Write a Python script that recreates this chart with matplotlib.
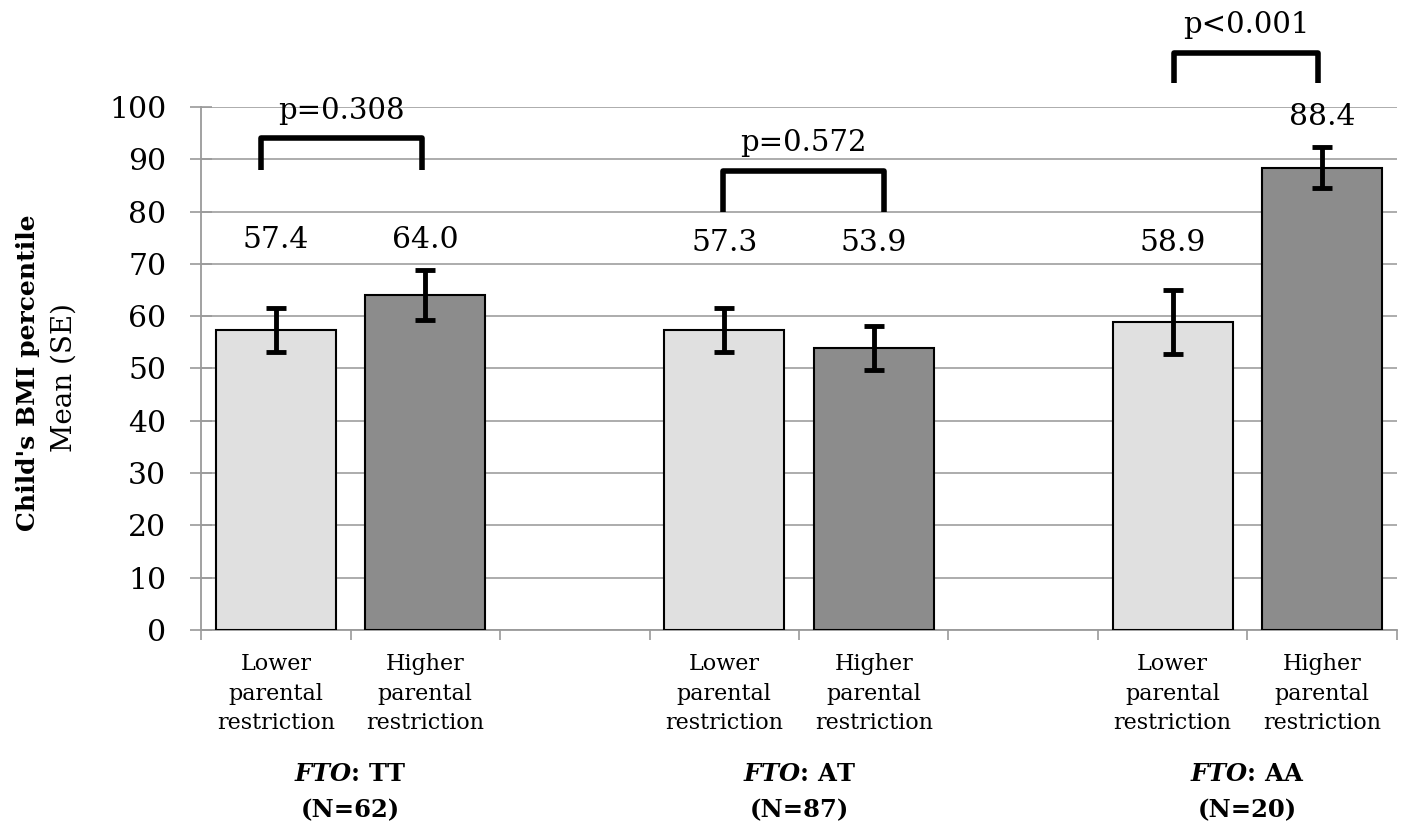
import numpy as np
import matplotlib.pyplot as plt
import matplotlib.transforms as mtransforms

plt.rcParams['font.family'] = ['DejaVu Serif']
plt.rcParams['mathtext.fontset'] = 'dejavuserif'

# data
groups = ["TT", "AT", "AA"]
group_n = [62, 87, 20]
bar_labels = ["Lower\nparental\nrestriction", "Higher\nparental\nrestriction"]
means = [[57.4, 64.0], [57.3, 53.9], [58.9, 88.4]]
se = [[4.2, 4.8], [4.2, 4.2], [6.2, 3.9]]
p_values = ["p=0.308", "p=0.572", "p<0.001"]
value_label_y = [[74.5, 74.5], [74.0, 74.0], [74.0, 98.0]]
bracket_y = [(88.0, 94.0), (80.0, 87.8), (104.6, 110.3)]
bracket_x = [(0.40, 1.48), (3.49, 4.57), (6.51, 7.47)]

bar_colors = ["#e0e0e0", "#8c8c8c"]

fig = plt.figure(figsize=(14.03, 8.26), dpi=100)
ax = fig.add_axes([0.1433, 0.2373, 0.8524, 0.6332])

for g in range(len(groups)):
    for j in range(2):
        x = 3 * g + j + 0.5
        ax.bar(x, means[g][j], width=0.8, color=bar_colors[j], edgecolor="black",
               linewidth=1.5, zorder=3)
        ax.errorbar(x, means[g][j], yerr=se[g][j], fmt="none", ecolor="black",
                    elinewidth=3.5, capsize=7, capthick=3.5, zorder=4)
        ax.text(x, value_label_y[g][j], f"{means[g][j]:.1f}", ha="center", va="center",
                fontsize=21.5, clip_on=False)
    # significance bracket
    x0, x1 = bracket_x[g]
    y0, y1 = bracket_y[g]
    ax.plot([x0, x0, x1, x1], [y0, y1, y1, y0], color="black", lw=4,
            solid_joinstyle="round", solid_capstyle="butt", clip_on=False, zorder=5)
    ax.text((x0 + x1) / 2, y1 + 5.3, p_values[g], ha="center", va="center",
            fontsize=21, clip_on=False)

ax.set_xlim(0, 8)
ax.set_ylim(0, 100)
ax.set_yticks(np.arange(0, 101, 10))
ax.tick_params(axis="y", labelsize=21.5, direction="inout", length=16, width=1.2,
               color="#9a9a9a", pad=17)
ax.set_xticks(np.arange(0, 9, 1))
ax.set_xticklabels([])
ax.tick_params(axis="x", direction="out", length=7, width=1.2, color="#9a9a9a")
ax.grid(axis="y", color="#a6a6a6", lw=1.3, zorder=0)
for s in ["top", "right"]:
    ax.spines[s].set_visible(False)
for s in ["left", "bottom"]:
    ax.spines[s].set_color("#9a9a9a")
    ax.spines[s].set_linewidth(1.3)

trans = mtransforms.blended_transform_factory(ax.transData, fig.transFigure)
for g in range(len(groups)):
    for j in range(2):
        x = 3 * g + j + 0.5
        ax.text(x, 1 - 653 / 826, bar_labels[j], transform=trans, ha="center", va="top",
                fontsize=16, linespacing=1.45)
    xc = 3 * g + 1.0
    ax.text(xc, 1 - 774 / 826, r"$\mathbfit{FTO}$: " + groups[g], transform=trans,
            ha="center", va="center", fontsize=17.5, fontweight="bold")
    ax.text(xc, 1 - 810 / 826, f"(N={group_n[g]})", transform=trans,
            ha="center", va="center", fontsize=17.5, fontweight="bold")

fig.text(28 / 1403, 1 - 373 / 826, "Child's BMI percentile", rotation=90, ha="center",
         va="center", fontsize=18, fontweight="bold")
fig.text(64 / 1403, 1 - 377 / 826, "Mean (SE)", rotation=90, ha="center",
         va="center", fontsize=20)

fig.savefig("out.png", dpi=100)
